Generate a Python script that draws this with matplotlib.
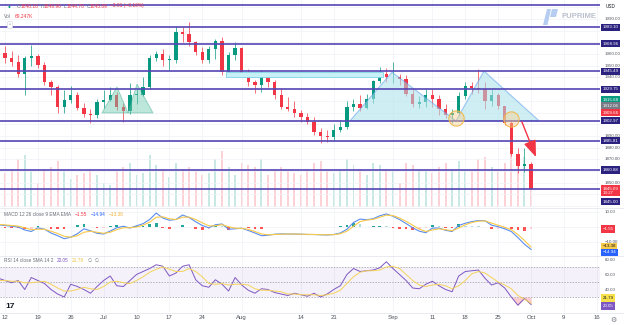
import matplotlib.pyplot as plt
import matplotlib.transforms as mtransforms
from matplotlib.lines import Line2D
from matplotlib.patches import Polygon, Rectangle
import numpy as np
import pandas as pd

plt.rcParams['font.family'] = ['Liberation Sans', 'DejaVu Sans']

W, H = 624, 325
UP, DOWN = '#089981', '#f23645'
LEVEL = '#5546b5'
TAG = '#2b2280'
GRID = '#f0f2f7'
AXTXT = '#50535e'

# XAUUSD daily candles, 9 Jun - 2 Oct 2023
first_open = 1963.0
closes = [1961, 1957, 1953, 1943, 1957, 1958, 1951, 1936, 1932, 1915,
          1921, 1925, 1914, 1909, 1908, 1919, 1921, 1925, 1915, 1911,
          1925, 1925, 1932, 1957, 1960, 1955, 1955, 1979, 1977, 1970,
          1962, 1955, 1964, 1971, 1945, 1959, 1965, 1944, 1936, 1934,
          1942, 1936, 1925, 1915, 1913, 1910, 1906, 1902, 1893, 1890,
          1889, 1895, 1898, 1915, 1917, 1914, 1922, 1937, 1943, 1940,
          1940, 1939, 1926, 1917, 1919, 1925, 1922, 1913, 1908, 1910,
          1924, 1933, 1931, 1930, 1920, 1925, 1916, 1901, 1875, 1864,
          1866, 1845.09]
highs = [1971, 1967, 1963, 1959, 1958, 1968, 1960, 1953, 1938, 1934,
         1929, 1933, 1928, 1918, 1913, 1922, 1929, 1932, 1928, 1918,
         1935, 1930, 1940, 1959, 1963, 1964, 1959, 1984, 1983, 1987.5,
         1971, 1966, 1967, 1973, 1975, 1962, 1970, 1966, 1947, 1938,
         1946, 1943, 1938, 1931, 1923, 1920, 1912, 1910, 1906, 1897,
         1895, 1900, 1904, 1920, 1922, 1925, 1926, 1938, 1949, 1948,
         1953, 1943, 1942, 1930, 1924, 1930, 1930, 1925, 1917, 1913,
         1928, 1936, 1936, 1947, 1936, 1930, 1927, 1916, 1904, 1880,
         1880, 1868]
lows = [1955, 1952, 1950, 1940, 1925, 1950, 1948, 1934, 1925, 1910,
        1910, 1918, 1912, 1906, 1901, 1905, 1914, 1920, 1912, 1902,
        1909, 1917, 1924, 1930, 1954, 1950, 1946, 1952, 1970, 1967,
        1959, 1952, 1952, 1956, 1942, 1943, 1955, 1941, 1933, 1927,
        1928, 1932, 1922, 1913, 1911, 1906, 1902, 1900, 1891, 1884,
        1885, 1886, 1893, 1896, 1911, 1911, 1913, 1918, 1935, 1936,
        1935, 1934, 1924, 1915, 1914, 1915, 1915, 1908, 1905, 1901,
        1908, 1922, 1926, 1927, 1913, 1916, 1913, 1899, 1873, 1858,
        1859, 1844.7]
volumes = [70, 85, 95, 120, 130, 90, 60, 95, 100, 115,
           90, 70, 80, 85, 95, 80, 60, 55, 90, 100,
           110, 80, 85, 130, 105, 95, 75, 110, 95, 100,
           90, 80, 85, 120, 140, 100, 80, 110, 105, 100,
           120, 80, 95, 100, 90, 85, 80, 95, 110, 115,
           90, 85, 95, 120, 105, 95, 80, 110, 105, 95,
           90, 60, 110, 105, 95, 90, 85, 100, 110, 95,
           115, 95, 90, 120, 125, 100, 90, 110, 135, 130,
           125, 69]
macd_line = [1.5, 1.0, 0.5, 0.0, -2.0, -3.0, -0.5, -1.5, -4.0, -5.8,
             -7.8, -6.8, -4.5, -1.2, -2.5, -4.2, -4.7, -2.7, -0.5, 0.5,
             -0.7, 0.8, 2.2, 5.0, 9.3, 6.0, 4.5, 5.0, 8.0, 6.3,
             3.5, 1.0, -0.5, 1.5, 2.0, -1.5, -1.2, -0.8, -2.3, -4.0,
             -5.8, -5.5, -4.8, -4.6, -4.7, -4.7, -4.8, -5.0, -5.0, -5.2,
             -5.3, -5.0, -4.0, -1.5, 3.0, 5.3, 4.8, 5.5, 7.5, 8.7,
             7.2, 5.0, 2.3, -0.5, -2.8, -3.8, -0.7, -0.7, -2.2, -3.0,
             1.0, 2.5, 3.6, 4.3, 4.2, 1.2, 0.2, -1.2, -3.0, -7.0,
             -11.5, -14.94]
signal_line = [1.8, 1.4, 1.0, 0.6, -0.5, -1.8, -1.5, -1.5, -2.8, -4.3,
               -6.2, -6.8, -5.8, -3.5, -2.8, -3.5, -4.2, -3.5, -1.8, -0.5,
               -0.5, 0.0, 1.2, 3.2, 6.5, 6.8, 5.5, 5.0, 6.5, 6.6,
               5.0, 2.8, 0.8, 0.8, 1.6, 0.2, -0.8, -0.9, -1.6, -3.0,
               -4.6, -5.2, -5.0, -4.8, -4.7, -4.7, -4.8, -4.9, -5.0, -5.1,
               -5.2, -5.1, -4.5, -2.8, 0.5, 3.6, 4.6, 5.1, 6.5, 7.9,
               7.6, 6.0, 3.8, 1.2, -1.4, -3.0, -2.0, -1.2, -1.8, -2.5,
               -0.7, 1.5, 3.0, 3.9, 4.1, 2.6, 1.2, -0.2, -1.8, -5.0,
               -9.0, -13.38]
rsi_line = [55, 52, 49, 52, 40, 56, 52, 48, 40, 34,
            30, 47, 44, 40, 35, 44, 52, 58, 45, 44,
            52, 60, 64, 68, 73, 71, 58, 62, 71, 73,
            53, 45, 43, 53, 47, 38, 56, 46, 39, 35,
            41, 40, 36, 34, 32, 35, 33, 31, 35, 30,
            34, 40, 45, 60, 68, 64, 65, 66, 69, 77,
            68, 60, 52, 42, 41, 47, 51, 45, 40, 37,
            58, 64, 65, 66, 55, 46, 49, 42, 30, 19,
            28, 20.05]
rsi_sma = [52, 52, 51, 51, 49, 49, 50, 51, 47, 42,
           38, 38, 40, 43, 41, 40, 44, 50, 51, 49,
           48, 52, 57, 63, 67, 70, 67, 64, 64, 68,
           64, 57, 48, 47, 48, 46, 47, 47, 46, 41,
           39, 39, 38, 37, 34, 34, 33, 33, 33, 32,
           33, 35, 39, 48, 57, 63, 65, 65, 66, 70,
           71, 68, 60, 52, 46, 44, 46, 47, 45, 41,
           45, 52, 61, 64, 62, 56, 50, 46, 41, 32,
           27, 21.79]

levels = [2001.8, 1983.10, 1968.96, 1945.49, 1929.75, 1902.97, 1885.81, 1860.88, 1845.00]
price_ticks = [1990, 1960, 1950, 1940, 1890, 1880, 1870, 1850]
tick_dates = ['2023-06-12', '2023-06-19', '2023-06-26', '2023-07-03', '2023-07-10',
              '2023-07-17', '2023-07-24', '2023-08-01', '2023-08-14', '2023-08-21',
              '2023-09-01', '2023-09-11', '2023-09-18', '2023-09-25', '2023-10-02',
              '2023-10-09', '2023-10-16']
tick_labels = ['12', '19', '26', 'Jul', '10', '17', '24', 'Aug', '14', '21',
               'Sep', '11', '18', '25', 'Oct', '9', '16']

# drawings (bar index, price)
small_triangles = [[(15.75, 1909.7), (18.03, 1931.9), (19.71, 1909.7)],
                   [(19.71, 1909.7), (21.08, 1934.4), (23.51, 1909.7)]]
top_pattern = [(53.47, 1902.97), (59.86, 1944.5), (69.59, 1902.97),
               (73.85, 1945.49), (82.22, 1902.97)]
zone = (34.6, 58.5, 1940.4, 1944.7)
touches = [(69.6, 1905.2), (77.9, 1904.6)]
arrow_from, arrow_to = (79.6, 1902.2), (81.75, 1872.0)

days = pd.bdate_range('2023-06-09', '2023-10-02')
calendar = pd.bdate_range('2023-06-09', '2023-10-20')
x = np.arange(len(days))
c = np.array(closes, float)
o = np.array([first_open] + closes[:-1], float)
hi = np.array(highs, float)
lo = np.array(lows, float)
macd = np.array(macd_line)
sig = np.array(signal_line)
hist = macd - sig
rsi = np.array(rsi_line, float)
tick_pos = [calendar.get_loc(pd.Timestamp(d)) for d in tick_dates]


def box(x0, y0, x1, y1):
    return [x0 / W, 1 - y1 / H, (x1 - x0) / W, (y1 - y0) / H]


fig = plt.figure(figsize=(6.24, 3.25), dpi=100)
ax = fig.add_axes(box(0, 0, 600, 207))
axm = fig.add_axes(box(0, 208, 600, 255), sharex=ax)
axr = fig.add_axes(box(0, 256, 600, 312), sharex=ax)

for a in (ax, axm, axr):
    for s in a.spines.values():
        s.set_visible(False)
    a.set_yticks([])
    a.tick_params(length=0)
    for p in tick_pos:
        a.axvline(p, color=GRID, lw=0.5, zorder=0)
ax.set_xlim(0.24, 91.49)

# volume behind the candles
axv = ax.twinx()
axv.set_zorder(ax.get_zorder() - 1)
ax.patch.set_visible(False)
axv.axis('off')
vcol = [UP if cc >= oo else DOWN for cc, oo in zip(c, o)]
axv.bar(x, volumes, width=0.3, color=vcol, alpha=0.22)
axv.set_ylim(0, 520)

# price pane
ax.set_ylim(1829.3, 2006.24)
for v in range(1830, 2010, 10):
    ax.axhline(v, color=GRID, lw=0.5, zorder=0)
col = np.where(c >= o, UP, DOWN)
ax.vlines(x, lo, hi, colors=col, lw=0.5, zorder=2)
ax.bar(x, np.maximum(np.abs(c - o), 0.5), bottom=np.minimum(o, c), width=0.5,
       color=col, zorder=2)

for tri in small_triangles:
    ax.add_patch(Polygon(tri, closed=True, fc='#6fcab0', ec='#3aa88a', alpha=0.45, lw=0.7, zorder=3))
ax.add_patch(Polygon(top_pattern, closed=True, fc='#a9e1ea', ec='#5c9ded', alpha=0.55, lw=0.8, zorder=3))
ax.add_patch(Rectangle((zone[0], zone[2]), zone[1] - zone[0], zone[3] - zone[2],
                       fc='#c8f1f7', ec='#7fd5e6', lw=0.6, zorder=3))
for tx, ty in touches:
    ax.plot(tx, ty, 'o', ms=11, mfc=(0.98, 0.82, 0.55, 0.45), mec='#f2b546', mew=0.7, zorder=5)
ax.annotate('', xy=arrow_to, xytext=arrow_from, zorder=6,
            arrowprops=dict(arrowstyle='-|>,head_length=1.0,head_width=0.38',
                            color='#f23645', lw=1.0, shrinkA=0, shrinkB=0))
for lv in levels:
    ax.axhline(lv, color=LEVEL, lw=1.2, zorder=4)


def tag(a, y, text, fc, tc='white'):
    tr = mtransforms.blended_transform_factory(a.transAxes, a.transData)
    a.text(1.004, y, text, transform=tr, fontsize=3.2, color=tc, va='center', ha='left',
           clip_on=False, zorder=10, linespacing=1.1,
           bbox=dict(boxstyle='square,pad=0.35', fc=fc, ec='none'))


def tick(a, y, text):
    tr = mtransforms.blended_transform_factory(a.transAxes, a.transData)
    a.text(1.008, y, text, transform=tr, fontsize=3.2, color=AXTXT, va='center', ha='left',
           clip_on=False)


for v in price_ticks:
    tick(ax, v, f'{v:.2f}')
for lv in levels[1:-1]:
    tag(ax, lv, f'{lv:.2f}', TAG)
tag(ax, 1920.8, '1915.68', UP)
tag(ax, 1915.7, '1912.06', '#787b86')
tag(ax, 1909.7, '1909.66', DOWN)
tag(ax, 1843.2, '1845.09\n13:27', DOWN)
tag(ax, 1834.0, '1845.00', TAG)

# MACD pane
axm.set_ylim(-18.67, 12.67)
for v in (-10, 0, 10):
    axm.axhline(v, color=GRID, lw=0.5, zorder=0)
hcol = []
for i, h in enumerate(hist):
    prev = hist[i - 1] if i else h
    if h >= 0:
        hcol.append('#26a69a' if h >= prev else '#b2dfdb')
    else:
        hcol.append('#ff5252' if h < prev else '#ffcdd2')
axm.bar(x, hist, width=0.4, color=hcol, zorder=2)
axm.plot(x, macd, color='#5b8def', lw=0.8, zorder=3)
axm.plot(x, sig, color='#f7c948', lw=0.8, zorder=3)
tick(axm, 10, '10.00')
tick(axm, -10, '\u221210.00')
tag(axm, -1.3, '\u22121.55', DOWN)
tag(axm, -12.8, '\u221213.38', '#f7c948', '#131722')
tag(axm, -16.8, '\u221214.94', '#2962ff')

# RSI pane
axr.set_ylim(10, 84.67)
axr.axhspan(30, 70, color='#7e57c2', alpha=0.08, lw=0)
for v in (70, 50, 30):
    axr.axhline(v, color='#9598a1', lw=0.5, ls=(0, (2, 2)))
axr.fill_between(x, rsi, 30, where=rsi < 30, interpolate=True, color='#f23645', alpha=0.25, lw=0)
axr.plot(x, rsi, color='#7e57c2', lw=0.7, zorder=3)
axr.plot(x, rsi_sma, color='#f5d35a', lw=0.7, zorder=3)
for v in (80, 60, 40):
    tick(axr, v, f'{v:.2f}')
tag(axr, 28.7, '21.79', '#f7e14a', '#131722')
tag(axr, 18.0, '20.05', '#7e57c2')

axr.set_xticks(tick_pos)
axr.set_xticklabels(tick_labels, fontsize=4.3, color=AXTXT)
axr.tick_params(axis='x', pad=2.5)
for a in (ax, axm):
    a.tick_params(labelbottom=False)

for yp in (207.5, 255.5, 312.5):
    fig.add_artist(Line2D([0, 1], [1 - yp / H] * 2, transform=fig.transFigure, color='#e0e3eb', lw=0.5))


def chain(a, x0, y0, pieces, size):
    # legend pieces laid out one after another
    t = a.text(x0 / W, 1 - y0 / H, pieces[0][0], color=pieces[0][1], fontsize=size, va='center',
               transform=fig.transFigure, zorder=20)
    for s, cc, gap in pieces[1:]:
        t = a.annotate(s, xy=(1, 0.5), xycoords=t, xytext=(gap, 0), textcoords='offset points',
                       color=cc, fontsize=size, va='center', ha='left', annotation_clip=False, zorder=20)


G = '#6a6d78'
chain(ax, 8, 6, [('\u25cf', UP), ('O', G, 4), ('1848.10', DOWN, 0), ('H', G, 1.5), ('1849.96', DOWN, 0),
                 ('L', G, 1.5), ('1844.70', DOWN, 0), ('C', G, 1.5), ('1845.09', DOWN, 0),
                 ('\u22123.01 (\u22120.16%)', DOWN, 1.5)], 3.5)
chain(ax, 4, 16, [('Vol', G), ('69.247K', DOWN, 2.5)], 3.5)
chain(axm, 4, 214, [('MACD 12 26 close 9 EMA EMA', G), ('\u22121.55', DOWN, 2.5),
                    ('\u221214.94', '#2962ff', 2.5), ('\u221213.38', '#f2b233', 2.5)], 3.4)
chain(axr, 4, 260, [('RSI 14 close SMA 14 2', G), ('20.05', '#7e57c2', 2.5),
                    ('21.79', '#e8c23a', 2.5), ('\u2205  \u2205', G, 2.5)], 3.4)

fig.text(10 / W, 1 - 25 / H, '^', fontsize=3, color=G, ha='center', va='center',
         bbox=dict(boxstyle='round,pad=0.4', fc='white', ec='#d1d4dc', lw=0.4))
fig.text(606 / W, 1 - 7 / H, 'USD', fontsize=3.3, color='#131722', va='center')
fig.text(561 / W, 1 - 16 / H, 'PUPRIME', fontsize=5.6, color='#b9c0cc', weight='bold', va='center')
fig.add_artist(Polygon([(543 / W, 1 - 25 / H), (547 / W, 1 - 9 / H), (551 / W, 1 - 9 / H), (547.5 / W, 1 - 25 / H)],
                       closed=True, transform=fig.transFigure, fc='#b5cdf1', ec='none'))
fig.add_artist(Polygon([(552 / W, 1 - 9 / H), (558 / W, 1 - 9 / H), (556 / W, 1 - 17 / H), (550 / W, 1 - 17 / H)],
                       closed=True, transform=fig.transFigure, fc='#b5cdf1', ec='none'))
fig.text(5 / W, 1 - 306 / H, '17', fontsize=6, color='#131722', weight='heavy', va='center')
fig.text(613 / W, 1 - 320 / H, '\u2699', fontsize=5, color='#787b86', ha='center', va='center',
         family='DejaVu Sans')

fig.savefig('out.png', dpi=100)
